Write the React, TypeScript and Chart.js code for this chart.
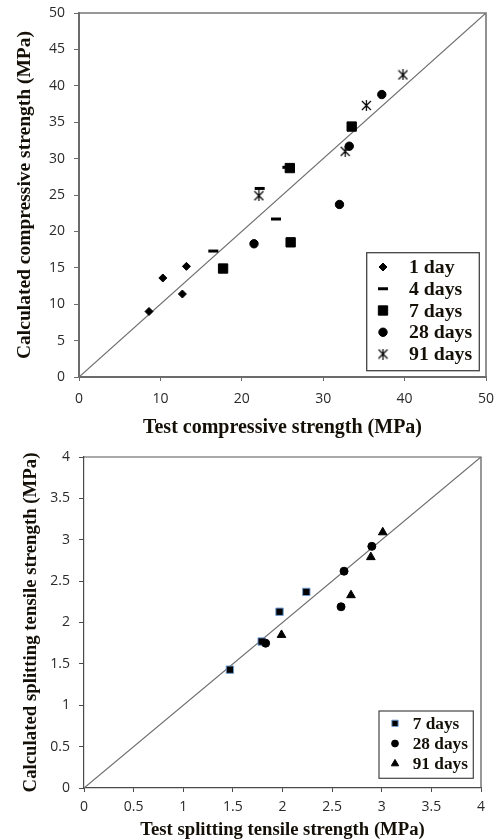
import React, { useEffect, useRef } from 'react';
import { Chart, registerables } from 'chart.js';
import { drawPoint } from 'chart.js/helpers';

Chart.register(...registerables);

// ---------- Data: compressive strength (MPa) ----------
const compTicksX = [0, 10, 20, 30, 40, 50];
const compTicksY = [0, 5, 10, 15, 20, 25, 30, 35, 40, 45, 50];
const compLabels = ['1 day', '4 days', '7 days', '28 days', '91 days'];
const comp1dX = [8.6, 10.3, 12.7, 13.2];
const comp1dY = [9.0, 13.6, 11.4, 15.2];
const comp4dX = [16.5, 22.2, 24.2, 25.6];
const comp4dY = [17.3, 25.9, 21.7, 28.8];
const comp7dX = [17.7, 25.9, 26.0, 33.5];
const comp7dY = [14.9, 28.7, 18.5, 34.4];
const comp28dX = [21.5, 32.0, 33.2, 37.2];
const comp28dY = [18.3, 23.7, 31.7, 38.8];
const comp91dX = [22.1, 32.7, 35.3, 39.8];
const comp91dY = [24.9, 31.0, 37.3, 41.5];
const compEqualityLine = [0, 50];

// ---------- Data: splitting tensile strength (MPa) ----------
const splitTicks = [0, 0.5, 1, 1.5, 2, 2.5, 3, 3.5, 4];
const splitLabels = ['7 days', '28 days', '91 days'];
const split7dX = [1.47, 1.79, 1.97, 2.24];
const split7dY = [1.43, 1.77, 2.13, 2.37];
const split28dX = [1.83, 2.59, 2.62, 2.9];
const split28dY = [1.75, 2.19, 2.62, 2.92];
const split91dX = [1.99, 2.69, 2.89, 3.01];
const split91dY = [1.85, 2.33, 2.79, 3.09];
const splitEqualityLine = [0, 4];

const pts = (xs: number[], ys: number[]) => xs.map((x, i) => ({ x, y: ys[i] }));

function makeAsterisk(size: number): HTMLCanvasElement {
  const c = document.createElement('canvas');
  c.width = size;
  c.height = size;
  const g = c.getContext('2d')!;
  g.strokeStyle = '#000';
  g.lineWidth = 1.2;
  const m = size / 2;
  const d = size / 2 - 1;
  g.beginPath();
  g.moveTo(m - d, m - d);
  g.lineTo(m + d, m + d);
  g.moveTo(m + d, m - d);
  g.lineTo(m - d, m + d);
  g.moveTo(m, 0);
  g.lineTo(m, size);
  g.stroke();
  return c;
}

const framePlugin = {
  id: 'frame',
  beforeDatasetsDraw(chart: any, _a: any, opts: any) {
    const { left, top, right, bottom } = chart.chartArea;
    const ctx = chart.ctx;
    ctx.save();
    ctx.strokeStyle = opts.color;
    ctx.lineWidth = opts.width;
    ctx.beginPath();
    ctx.moveTo(left, top);
    ctx.lineTo(right, top);
    ctx.lineTo(right, bottom);
    ctx.stroke();
    ctx.restore();
  },
};

const boxLegendPlugin = {
  id: 'boxLegend',
  afterDraw(chart: any, _a: any, opts: any) {
    const ctx = chart.ctx;
    const ca = chart.chartArea;
    const x0 = ca.right - opts.rightInset - opts.width;
    const y0 = ca.bottom - opts.bottomInset - opts.height;
    ctx.save();
    ctx.fillStyle = '#fff';
    ctx.fillRect(x0, y0, opts.width, opts.height);
    ctx.strokeStyle = opts.borderColor;
    ctx.lineWidth = opts.borderWidth;
    ctx.strokeRect(x0, y0, opts.width, opts.height);
    let row = 0;
    chart.data.datasets.forEach((ds: any) => {
      if (!ds.label) return;
      const y = y0 + opts.firstRow + row * opts.rowHeight;
      row++;
      ctx.save();
      ctx.fillStyle = ds.pointBackgroundColor;
      ctx.strokeStyle = ds.pointBorderColor;
      ctx.lineWidth = ds.pointBorderWidth;
      drawPoint(
        ctx,
        {
          pointStyle: ds.pointStyle,
          radius: ds.pointRadius * opts.markerScale,
          borderWidth: ds.pointBorderWidth,
          rotation: 0,
        } as any,
        x0 + opts.markerX,
        y
      );
      ctx.restore();
      ctx.fillStyle = opts.color;
      ctx.font = opts.font;
      ctx.textAlign = 'left';
      ctx.textBaseline = 'middle';
      ctx.fillText(ds.label, x0 + opts.textX, y + 1);
    });
    ctx.restore();
  },
};

function series(label: string, data: any[], style: any, order: number) {
  return {
    label,
    data,
    pointStyle: style.pointStyle,
    pointRadius: style.radius,
    pointHoverRadius: style.radius,
    pointBackgroundColor: style.fill ?? '#000',
    pointBorderColor: style.border ?? '#000',
    pointBorderWidth: style.borderWidth ?? 1,
    backgroundColor: style.fill ?? '#000',
    borderColor: style.border ?? '#000',
    showLine: false,
    order,
  };
}

function equality(vals: number[]) {
  return {
    label: '',
    data: vals.map((v) => ({ x: v, y: v })),
    showLine: true,
    pointRadius: 0,
    borderColor: '#6e6e6e',
    borderWidth: 1.2,
    order: 10,
  };
}

function axis(opts: any) {
  return {
    type: 'linear',
    min: opts.ticks[0],
    max: opts.ticks[opts.ticks.length - 1],
    afterBuildTicks: (s: any) => {
      s.ticks = opts.ticks.map((v: number) => ({ value: v }));
    },
    afterFit: (s: any) => {
      if (opts.width !== undefined) s.width = opts.width;
      if (opts.height !== undefined) s.height = opts.height;
      s.paddingLeft = 0;
      s.paddingRight = 0;
      s.paddingTop = 0;
      s.paddingBottom = 0;
    },
    ticks: {
      color: '#2a2a2a',
      font: { family: "'Open Sans', sans-serif", size: 14 },
      padding: opts.tickPadding,
      maxRotation: 0,
      callback: (v: number) => String(v),
    },
    grid: {
      drawOnChartArea: false,
      drawTicks: true,
      tickLength: opts.tickLength,
      tickColor: opts.borderColor,
      tickWidth: 1,
    },
    border: { display: true, color: opts.borderColor, width: opts.borderWidth },
    title: {
      display: true,
      text: opts.title,
      color: '#141008',
      font: {
        family: "'Liberation Serif', 'Times New Roman', serif",
        size: opts.titleSize,
        weight: 'bold',
        lineHeight: 1,
      },
      padding: opts.titlePadding,
    },
  };
}

function useChart(ref: React.RefObject<HTMLCanvasElement>, build: () => any) {
  useEffect(() => {
    if (!ref.current) return;
    const chart = new Chart(ref.current, build());
    return () => chart.destroy();
  }, []);
}

export default function App() {
  const topRef = useRef<HTMLCanvasElement>(null);
  const botRef = useRef<HTMLCanvasElement>(null);

  useChart(topRef, () => {
    const star = makeAsterisk(11);
    return {
      type: 'scatter',
      data: {
        datasets: [
          series(compLabels[0], pts(comp1dX, comp1dY), { pointStyle: 'rectRot', radius: 4 }, 0),
          series(compLabels[1], pts(comp4dX, comp4dY), { pointStyle: 'line', radius: 5, borderWidth: 3 }, -1),
          series(compLabels[2], pts(comp7dX, comp7dY), { pointStyle: 'rect', radius: 6.6 }, -2),
          series(compLabels[3], pts(comp28dX, comp28dY), { pointStyle: 'circle', radius: 4.2 }, -3),
          series(compLabels[4], pts(comp91dX, comp91dY), { pointStyle: star, radius: 5, borderWidth: 0 }, -4),
          equality(compEqualityLine),
        ],
      },
      options: {
        responsive: false,
        animation: false,
        devicePixelRatio: 1,
        layout: { padding: { left: 0, top: 13, right: 9, bottom: 0 } },
        events: [],
        plugins: {
          legend: { display: false },
          tooltip: { enabled: false },
          frame: { color: '#777', width: 1.6 },
          boxLegend: {
            width: 112.6,
            height: 118,
            rightInset: 6.7,
            bottomInset: 6.3,
            firstRow: 14.3,
            rowHeight: 21.75,
            markerX: 16.3,
            textX: 42.3,
            markerScale: 1,
            font: "bold 19.8px 'Liberation Serif', 'Times New Roman', serif",
            color: '#141008',
            borderColor: '#444',
            borderWidth: 1.3,
          },
        },
        scales: {
          x: axis({
            ticks: compTicksX,
            height: 63,
            tickPadding: 10,
            tickLength: 4,
            borderColor: '#6b6b6b',
            borderWidth: 2,
            title: 'Test compressive strength (MPa)',
            titleSize: 20,
            titlePadding: { top: 0, bottom: 2 },
          }),
          y: axis({
            ticks: compTicksY,
            width: 79,
            tickPadding: 9,
            tickLength: 5,
            borderColor: '#6b6b6b',
            borderWidth: 2,
            title: 'Calculated compressive strength (MPa)',
            titleSize: 19.5,
            titlePadding: { top: 15.2, bottom: 0 },
          }),
        },
      },
      plugins: [framePlugin, boxLegendPlugin],
    };
  });

  useChart(botRef, () => ({
    type: 'scatter',
    data: {
      datasets: [
        series(splitLabels[0], pts(split7dX, split7dY), { pointStyle: 'rect', radius: 5.2, border: '#6f9bd1', borderWidth: 1 }, 0),
        series(splitLabels[1], pts(split28dX, split28dY), { pointStyle: 'circle', radius: 4 }, -1),
        series(splitLabels[2], pts(split91dX, split91dY), { pointStyle: 'triangle', radius: 5 }, -2),
        equality(splitEqualityLine),
      ],
    },
    options: {
      responsive: false,
      animation: false,
      devicePixelRatio: 1,
      layout: { padding: { left: 0, top: 17, right: 14, bottom: 0 } },
      events: [],
      plugins: {
        legend: { display: false },
        tooltip: { enabled: false },
        frame: { color: '#555', width: 1.2 },
        boxLegend: {
          width: 94.3,
          height: 67.3,
          rightInset: 7.7,
          bottomInset: 9.7,
          firstRow: 12.3,
          rowHeight: 20.2,
          markerX: 16,
          textX: 33.7,
          markerScale: 0.85,
          font: "bold 17.3px 'Liberation Serif', 'Times New Roman', serif",
          color: '#141008',
          borderColor: '#444',
          borderWidth: 1.2,
        },
      },
      scales: {
        x: axis({
          ticks: splitTicks,
          height: 52,
          tickPadding: 7,
          tickLength: 4,
          borderColor: '#4a4a4a',
          borderWidth: 1.2,
          title: 'Test splitting tensile strength (MPa)',
          titleSize: 18.7,
          titlePadding: { top: 0, bottom: 0 },
        }),
        y: axis({
          ticks: splitTicks,
          width: 84,
          tickPadding: 9,
          tickLength: 5,
          borderColor: '#4a4a4a',
          borderWidth: 1.2,
          title: 'Calculated splitting tensile strength (MPa)',
          titleSize: 18.8,
          titlePadding: { top: 21.6, bottom: 0 },
        }),
      },
    },
    plugins: [framePlugin, boxLegendPlugin],
  }));

  return (
    <div style={{ position: 'absolute', left: 0, top: 0, width: 495, height: 840, background: '#fff' }}>
      <canvas ref={topRef} width={495} height={440} style={{ position: 'absolute', left: 0, top: 0, display: 'block' }} />
      <canvas ref={botRef} width={495} height={400} style={{ position: 'absolute', left: 0, top: 440, display: 'block' }} />
    </div>
  );
}
